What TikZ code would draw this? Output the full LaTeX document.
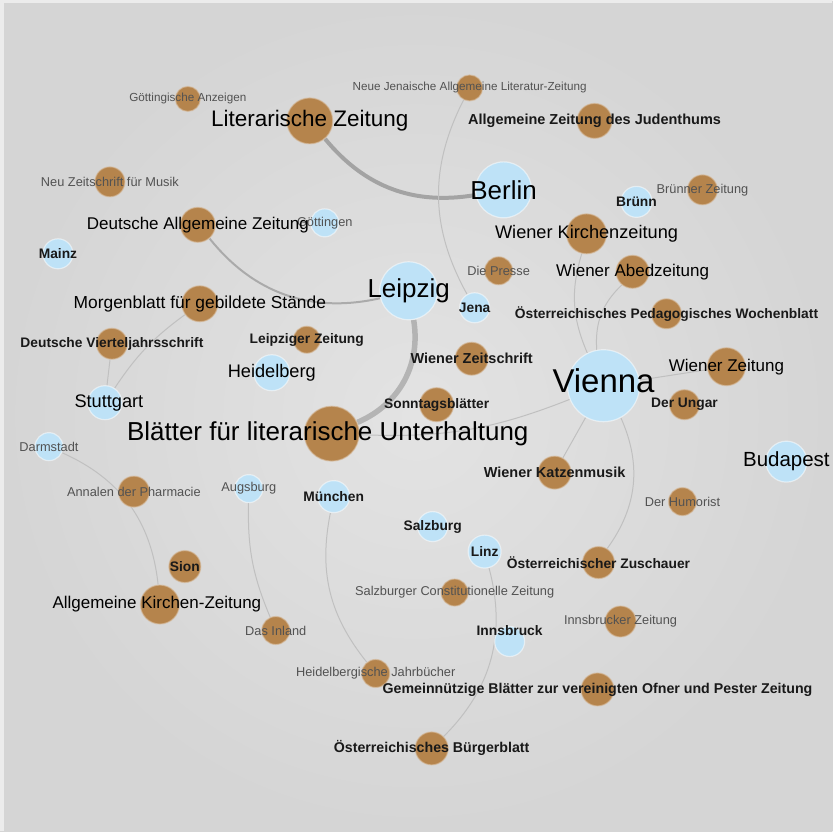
\documentclass[tikz,border=0pt]{standalone}
\usepackage{fontspec}
\setmainfont{Liberation Sans}
\pgfdeclarelayer{bg}
\pgfsetlayers{bg,main}
\definecolor{paperbrown}{RGB}{181,132,76}
\definecolor{cityblue}{RGB}{190,226,247}
\definecolor{edgegray}{RGB}{150,150,150}
\definecolor{faintgray}{RGB}{192,192,192}
\definecolor{canvasdark}{RGB}{213,213,213}
\definecolor{canvaslight}{RGB}{227,227,227}
\definecolor{canvasedge}{RGB}{236,236,236}

\begin{document}
\begin{tikzpicture}[x=1pt,y=-1pt,
paper/.style={circle,fill=paperbrown,draw=paperbrown!55!white,draw opacity=0.6,line width=1.2pt,inner sep=0pt,minimum size=2*#1},
city/.style={circle,fill=cityblue,draw=white,draw opacity=0.5,line width=1.2pt,inner sep=0pt,minimum size=2*#1},
link/.style={draw=edgegray,draw opacity=0.8,line width=#1},
faint/.style={draw=faintgray,line width=1pt},
txtxl/.style={font=\fontsize{33}{36}\selectfont},
txtl/.style={font=\fontsize{26}{29}\selectfont},
txtlz/.style={font=\fontsize{22.5}{25}\selectfont},
txtbp/.style={font=\fontsize{20.5}{23}\selectfont},
txtm/.style={font=\fontsize{18.2}{20}\selectfont},
txtn/.style={font=\fontsize{17}{19}\selectfont},
txtb/.style={font=\fontsize{13.8}{16}\selectfont\bfseries,text=black!90},
txts/.style={font=\fontsize{12.8}{15}\selectfont,text=black!68},
txtxs/.style={font=\fontsize{11.7}{14}\selectfont,text=black!68}]

% upper part
\node (goetanz) at (188,99) [paper=12.5,label={[txtxs]center:Göttingische Anzeigen}] {};
\node (litz) at (310,121) [paper=23,label={[txtlz]center:Literarische Zeitung}] {};
\node (neuejena) at (470,88) [paper=13,label={[txtxs]center:Neue Jenaische Allgemeine Literatur-Zeitung}] {};
\node (judenth) at (595,121) [paper=17.5,label={[txtb,font=\fontsize{14.5}{17}\selectfont\bfseries]center:Allgemeine Zeitung des Judenthums}] {};
\node (neumusik) at (110,182) [paper=15,label={[txts]center:Neu Zeitschrift für Musik}] {};
\node (berlin) at (504,190) [city=28,label={[txtl]center:Berlin}] {};
\node (bruenn) at (637,202) [city=15.5,label={[txtb]center:Brünn}] {};
\node (bruennz) at (703,190) [paper=15,label={[txts]center:Brünner Zeitung}] {};
\node (goettingen) at (325,223) [city=14,label={[txts]center:Göttingen}] {};
\node (daz) at (198,225) [paper=17.5,label={[txtn]center:Deutsche Allgemeine Zeitung}] {};
\node (mainz) at (58,254) [city=15,label={[txtb]center:Mainz}] {};
\node (wkirche) at (587,234) [paper=20,label={[txtm]center:Wiener Kirchenzeitung}] {};
\node (presse) at (499,271) [paper=14,label={[txts]center:Die Presse}] {};
\node (abendz) at (633,272) [paper=16.5,label={[txtn]center:Wiener Abedzeitung}] {};
\node (leipzig) at (409,291) [city=29,label={[txtl]center:Leipzig}] {};
\node (jena) at (475,308) [city=15,label={[txtb]center:Jena}] {};
\node (morgenbl) at (200,304) [paper=18,label={[txtn,font=\fontsize{17.4}{19}\selectfont]center:Morgenblatt für gebildete Stände}] {};
\node (paedwoch) at (667,314) [paper=15,label={[txtb]center:Österreichisches Pedagogisches Wochenblatt}] {};

% middle part
\node (vierteljs) at (112,344) [paper=15.5,label={[txtb]center:Deutsche Vierteljahrsschrift}] {};
\node (leipzz) at (307,340) [paper=13.5,label={[txtb]center:Leipziger Zeitung}] {};
\node (heidelberg) at (272,373) [city=18,label={[txtm]center:Heidelberg}] {};
\node (wzeitschr) at (472,359) [paper=16.5,label={[txtb,font=\fontsize{14.5}{17}\selectfont\bfseries]center:Wiener Zeitschrift}] {};
\node (vienna) at (604,386) [city=36,label={[txtxl,yshift=5pt]center:Vienna}] {};
\node (wzeitung) at (727,367) [paper=19,label={[txtn]center:Wiener Zeitung}] {};
\node (stuttgart) at (105,403) [city=17,label={[txtm,xshift=4pt]center:Stuttgart}] {};
\node (sonntag) at (437,405) [paper=17,label={[txtb]center:Sonntagsblätter}] {};
\node (ungar) at (685,405) [paper=15,label={[txtb]center:Der Ungar}] {};
\node (blaetter) at (332,434) [paper=27.5,label={[txtl,xshift=-4pt]center:Blätter für literarische Unterhaltung}] {};
\node (darmstadt) at (49,447) [city=14,label={[txts]center:Darmstadt}] {};
\node (budapest) at (787,462) [city=20.5,label={[txtbp]center:Budapest}] {};
\node (katzen) at (555,473) [paper=16.5,label={[txtb,font=\fontsize{14.5}{17}\selectfont\bfseries]center:Wiener Katzenmusik}] {};

% lower part
\node (annalen) at (134,492) [paper=15.5,label={[txts]center:Annalen der Pharmacie}] {};
\node (augsburg) at (249,489) [city=14,label={[txts]center:Augsburg}] {};
\node (muenchen) at (334,497) [city=16,label={[txtb]center:München}] {};
\node (humorist) at (683,502) [paper=14,label={[txts]center:Der Humorist}] {};
\node (salzburg) at (433,527) [city=15,label={[txtb]center:Salzburg}] {};
\node (linz) at (485,552) [city=16.5,label={[txtb]center:Linz}] {};
\node (sion) at (185,567) [paper=16,label={[txtb]center:Sion}] {};
\node (zuschauer) at (599,563) [paper=16,label={[txtb]center:Österreichischer Zuschauer}] {};
\node (salzcz) at (455,593) [paper=13.5,label={[txts]center:Salzburger Constitutionelle Zeitung}] {};
\node (akz) at (160,605) [paper=19.5,label={[txtn,xshift=-3pt]center:Allgemeine Kirchen-Zeitung}] {};
\node (innsbrz) at (621,622) [paper=15.5,label={[txts]center:Innsbrucker Zeitung}] {};
\node (inland) at (276,631) [paper=14,label={[txts]center:Das Inland}] {};
\node (innsbruck) at (510,642) [city=15,label={[txtb,yshift=11pt]center:Innsbruck}] {};
\node (hdjahrb) at (376,674) [paper=14,label={[txts]center:Heidelbergische Jahrbücher}] {};
\node (gemeinn) at (598,690) [paper=16.5,label={[txtb,font=\fontsize{14.2}{17}\selectfont\bfseries]center:Gemeinnützige Blätter zur vereinigten Ofner und Pester Zeitung}] {};
\node (buergerbl) at (432,749) [paper=16.5,label={[txtb,font=\fontsize{14.2}{17}\selectfont\bfseries]center:Österreichisches Bürgerblatt}] {};

\begin{pgfonlayer}{bg}
\shade [inner color=canvaslight,outer color=canvasdark] (0,0) rectangle (833,832);
\fill [canvasedge] (0,0) rectangle (833,3);
\fill [canvasedge] (0,0) rectangle (4,832);
\useasboundingbox (0,0) rectangle (833,832);

\draw [link=4pt] (litz) to [bend right=30] (berlin);
\draw [link=2pt,draw opacity=0.7] (daz) to [bend right=32] (leipzig);
\draw [link=5.5pt,draw opacity=0.6] (blaetter) to [bend right=38] (leipzig);
\draw [faint] (neuejena) to [bend right=28] (jena);
\draw [faint] (wkirche) to [bend right=20] (vienna);
\draw [faint] (abendz) to [bend right=25] (vienna);
\draw [faint] (vienna) -- (wzeitung);
\draw [faint] (vienna) -- (katzen);
\draw [faint] (vienna) to [bend left=30] (zuschauer);
\draw [faint] (blaetter) to [bend right=12] (vienna);
\draw [faint] (linz) to [bend left=30] (buergerbl);
\draw [faint] (morgenbl) to [bend right=10] (stuttgart);
\draw [faint] (vierteljs) -- (stuttgart);
\draw [faint] (darmstadt) to [bend left=30] (akz);
\draw [faint] (muenchen) to [bend right=25] (hdjahrb);
\draw [faint] (augsburg) to [bend right=12] (inland);
\end{pgfonlayer}

\end{tikzpicture}
\end{document}
